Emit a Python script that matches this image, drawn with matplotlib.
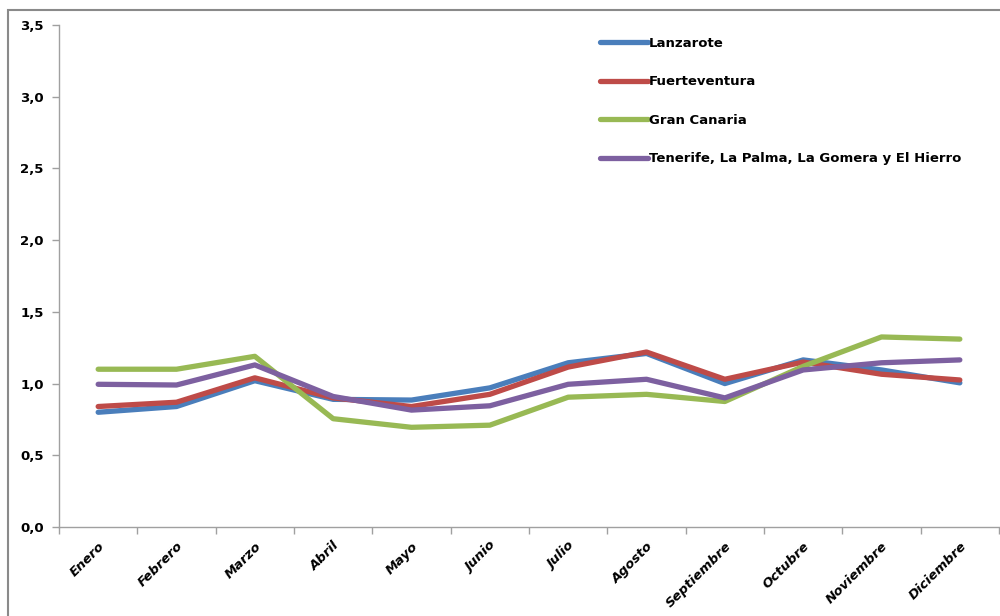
import matplotlib
matplotlib.use("Agg")
import matplotlib.pyplot as plt
from matplotlib.patches import Rectangle

months = ["Enero", "Febrero", "Marzo", "Abril", "Mayo", "Junio", "Julio",
          "Agosto", "Septiembre", "Octubre", "Noviembre", "Diciembre"]
lanzarote = [0.80, 0.84, 1.02, 0.89, 0.885, 0.97, 1.145, 1.21, 1.00, 1.165, 1.095, 1.005]
fuerteventura = [0.84, 0.87, 1.04, 0.90, 0.84, 0.925, 1.115, 1.22, 1.03, 1.15, 1.065, 1.025]
gran_canaria = [1.10, 1.10, 1.19, 0.755, 0.695, 0.71, 0.905, 0.925, 0.875, 1.12, 1.325, 1.31]
tenerife = [0.995, 0.99, 1.13, 0.91, 0.815, 0.845, 0.995, 1.03, 0.90, 1.095, 1.145, 1.165]

series = [
    ("Lanzarote", lanzarote, "#4A7EBB"),
    ("Fuerteventura", fuerteventura, "#BE4B48"),
    ("Gran Canaria", gran_canaria, "#98B954"),
    ("Tenerife, La Palma, La Gomera y El Hierro", tenerife, "#7D60A0"),
]
yticks = [0.0, 0.5, 1.0, 1.5, 2.0, 2.5, 3.0, 3.5]
ytick_labels = ["0,0", "0,5", "1,0", "1,5", "2,0", "2,5", "3,0", "3,5"]

plt.rcParams['font.family'] = ['DejaVu Sans']
fig = plt.figure(figsize=(10, 6.16), dpi=100)
ax = fig.add_axes([0.059, 1 - 527 / 616, 0.94, (527 - 25) / 616])

x = list(range(len(months)))
for name, vals, col in series:
    ax.plot(x, vals, color=col, lw=3.8, label=name,
            solid_capstyle='round', solid_joinstyle='round')

fs = 9.5
ax.set_xlim(-0.5, len(months) - 0.5)
ax.set_ylim(0, 3.5)
ax.set_yticks(yticks)
ax.set_yticklabels(ytick_labels, fontsize=fs, fontweight='bold')
ax.set_xticks(x)
ax.set_xticklabels(months, fontsize=fs, fontweight='bold', style='italic',
                   rotation=45, ha='right', va='top', rotation_mode='anchor')
ax.set_xticks([i - 0.5 for i in range(len(months) + 1)], minor=True)
ax.tick_params(axis='x', which='major', length=0, pad=9)
ax.tick_params(axis='x', which='minor', length=5, color='#A0A0A0', width=1)
ax.tick_params(axis='y', length=5, color='#A0A0A0', width=1, pad=6)
for s in ['top', 'right']:
    ax.spines[s].set_visible(False)
for s in ['left', 'bottom']:
    ax.spines[s].set_color('#A0A0A0')
    ax.spines[s].set_linewidth(1)

leg = ax.legend(loc='upper left', bbox_to_anchor=(0.6, 1 - 37 / 616), bbox_transform=fig.transFigure,
                frameon=False, prop={'size': fs, 'weight': 'bold'},
                handlelength=3.6, handletextpad=0.12, labelspacing=1.93,
                borderaxespad=0, borderpad=0)

fig.patches.append(Rectangle((8 / 1000, -0.1), 1.2, 1.1 - 10 / 616,
                             transform=fig.transFigure, fill=False,
                             edgecolor='#8A8A8A', lw=1.5, zorder=10))

fig.savefig("out.png", dpi=100)
